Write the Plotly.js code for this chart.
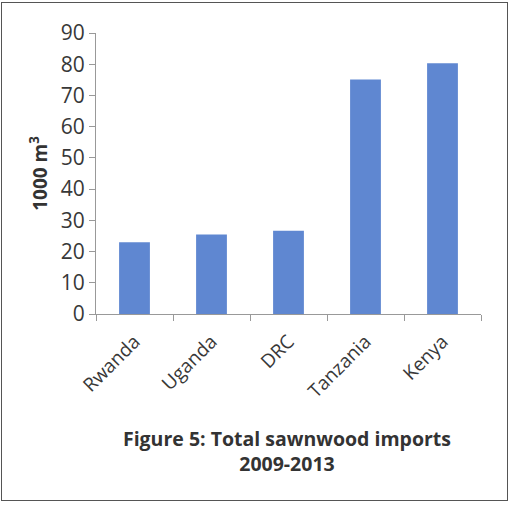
<!DOCTYPE html>
<html>
<head>
<meta charset="utf-8">
<script src="https://cdn.plot.ly/plotly-3.0.1.min.js"></script>
<style>
html,body{margin:0;padding:0;background:#fff;}
#frame{position:absolute;left:1px;top:2px;width:507px;height:499px;border:1.5px solid #555;box-sizing:border-box;}
#chart{position:absolute;left:0;top:0;width:512px;height:506px;}
</style>
</head>
<body>
<div id="chart"></div>
<div id="frame"></div>
<script>
const countries = ["Rwanda", "Uganda", "DRC", "Tanzania", "Kenya"];
const imports = [23, 25.5, 26.7, 75.1, 80.3];
const yTicks = [0, 10, 20, 30, 40, 50, 60, 70, 80, 90];

const font = "Open Sans, Liberation Sans, sans-serif";

Plotly.newPlot("chart", [{
  type: "bar",
  x: countries,
  y: imports,
  marker: {color: "#5f87d1"},
  width: 0.4,
  hoverinfo: "skip"
}], {
  width: 512,
  height: 506,
  margin: {l: 96, r: 31, t: 33, b: 192},
  paper_bgcolor: "rgba(0,0,0,0)",
  plot_bgcolor: "rgba(0,0,0,0)",
  showlegend: false,
  font: {family: font, color: "#383838"},
  title: {
    text: "<b>Figure 5: Total sawnwood imports<br>2009-2013</b>",
    font: {family: font, size: 19.5, color: "#333"},
    x: 287/512, xanchor: "center",
    y: 1 - 446/506, yanchor: "middle",
    xref: "container", yref: "container"
  },
  xaxis: {
    type: "category",
    tickangle: -45,
    tickfont: {size: 19, color: "#383838"},
    ticklabelstandoff: 8,
    showline: true, linecolor: "#999", linewidth: 1,
    ticks: "outside", tickson: "boundaries", ticklen: 6, tickcolor: "#999",
    showgrid: false, zeroline: false,
    fixedrange: true
  },
  yaxis: {
    range: [0, 90],
    tickvals: yTicks,
    tickfont: {size: 21, color: "#383838"},
    showline: true, linecolor: "#999", linewidth: 1,
    ticks: "outside", ticklen: 6, tickcolor: "#999",
    showgrid: false, zeroline: false,
    title: {text: "<b>1000 m<sup>3</sup></b>", font: {size: 19, color: "#333"}, standoff: 8},
    fixedrange: true
  }
}, {displayModeBar: false, staticPlot: true});
</script>
</body>
</html>
